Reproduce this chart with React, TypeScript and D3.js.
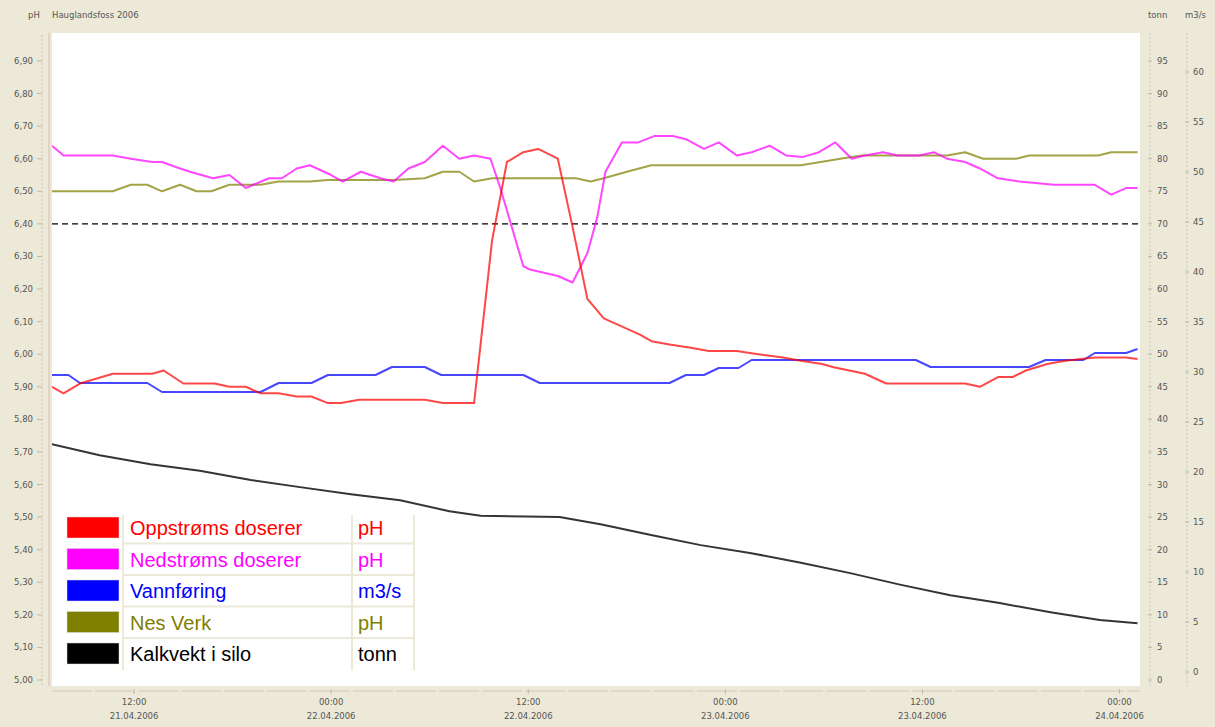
import React from "react";
import * as d3 from "d3";

const W = 1215;
const H = 727;
const plot = { left: 52, right: 1140, top: 33, bottom: 686 };

// time in hours since 21.04.2006 00:00
const oppT = [7.0, 7.7, 8.7, 10.7, 12.0, 13.1, 13.8, 15.0, 15.6, 16.9, 17.8, 18.8, 19.7, 20.8, 21.9, 22.8, 23.8, 24.6, 25.7, 29.7, 30.8, 32.7, 33.8, 34.7, 35.7, 36.6, 37.8, 38.7, 39.6, 40.6, 42.8, 43.5, 44.6, 45.9, 47.0, 48.7, 50.0, 51.5, 52.6, 53.9, 54.6, 56.5, 57.8, 58.7, 62.6, 63.5, 64.6, 65.5, 66.3, 67.6, 68.7, 70.5, 72.4, 73.1];
const oppV = [5.9, 5.88, 5.91, 5.94, 5.94, 5.94, 5.95, 5.91, 5.91, 5.91, 5.9, 5.9, 5.88, 5.88, 5.87, 5.87, 5.85, 5.85, 5.86, 5.86, 5.85, 5.85, 6.35, 6.59, 6.62, 6.63, 6.6, 6.39, 6.17, 6.11, 6.06, 6.04, 6.03, 6.02, 6.01, 6.01, 6.0, 5.99, 5.98, 5.97, 5.96, 5.94, 5.91, 5.91, 5.91, 5.9, 5.93, 5.93, 5.95, 5.97, 5.98, 5.99, 5.99, 5.985];

const nedT = [7.0, 7.7, 10.7, 11.8, 13.1, 13.7, 14.8, 15.4, 16.8, 17.8, 18.8, 20.2, 21.0, 21.9, 22.7, 24.0, 24.7, 25.8, 27.0, 27.8, 28.7, 29.7, 30.8, 31.8, 32.7, 33.7, 34.3, 35.7, 36.1, 37.8, 38.7, 39.6, 40.2, 40.7, 41.7, 42.7, 43.7, 44.8, 45.6, 46.7, 47.6, 48.7, 49.6, 50.7, 51.7, 52.7, 53.7, 54.7, 55.7, 56.5, 57.6, 58.5, 59.8, 60.7, 61.5, 62.6, 63.5, 64.6, 65.9, 68.0, 70.5, 71.5, 72.4, 73.1];
const nedV = [6.64, 6.61, 6.61, 6.6, 6.59, 6.59, 6.57, 6.56, 6.54, 6.55, 6.51, 6.54, 6.54, 6.57, 6.58, 6.55, 6.53, 6.56, 6.54, 6.53, 6.57, 6.59, 6.64, 6.6, 6.61, 6.6, 6.51, 6.27, 6.26, 6.24, 6.22, 6.31, 6.42, 6.56, 6.65, 6.65, 6.67, 6.67, 6.66, 6.63, 6.65, 6.61, 6.62, 6.64, 6.61, 6.605, 6.62, 6.65, 6.6, 6.61, 6.62, 6.61, 6.61, 6.62, 6.6, 6.59, 6.57, 6.54, 6.53, 6.52, 6.52, 6.49, 6.51, 6.51];

const vannT = [7.0, 8.0, 8.7, 12.8, 13.7, 19.7, 20.8, 22.8, 23.8, 26.7, 27.7, 29.7, 30.7, 35.7, 36.7, 44.6, 45.6, 46.7, 47.6, 48.8, 49.6, 59.6, 60.5, 66.5, 67.5, 69.8, 70.5, 72.4, 73.1];
const vannV = [29.7, 29.7, 28.9, 28.9, 28.0, 28.0, 28.9, 28.9, 29.7, 29.7, 30.5, 30.5, 29.7, 29.7, 28.9, 28.9, 29.7, 29.7, 30.4, 30.4, 31.2, 31.2, 30.5, 30.5, 31.2, 31.2, 31.9, 31.9, 32.3];

const nesT = [7.0, 10.7, 11.8, 12.8, 13.7, 14.8, 15.8, 16.7, 17.8, 19.7, 20.8, 22.7, 23.8, 27.8, 29.7, 30.8, 31.8, 32.7, 33.8, 38.9, 39.8, 40.6, 42.0, 43.5, 52.6, 55.0, 56.3, 61.5, 62.6, 63.7, 65.7, 66.5, 70.7, 71.5, 73.1];
const nesV = [6.5, 6.5, 6.52, 6.52, 6.5, 6.52, 6.5, 6.5, 6.52, 6.52, 6.53, 6.53, 6.535, 6.535, 6.54, 6.56, 6.56, 6.53, 6.54, 6.54, 6.53, 6.54, 6.56, 6.58, 6.58, 6.6, 6.61, 6.61, 6.62, 6.6, 6.6, 6.61, 6.61, 6.62, 6.62];

const kalkT = [7.0, 9.9, 13.0, 16.0, 19.1, 22.1, 25.2, 28.2, 31.2, 33.1, 37.9, 40.4, 43.4, 46.5, 49.5, 52.6, 55.6, 58.7, 61.7, 64.7, 67.8, 70.8, 73.1];
const kalkV = [36.2, 34.5, 33.1, 32.1, 30.7, 29.6, 28.5, 27.6, 25.9, 25.2, 25.0, 23.9, 22.3, 20.7, 19.5, 18.0, 16.4, 14.6, 13.0, 11.8, 10.4, 9.2, 8.7];

const legendNames = ["Oppstrøms doserer", "Nedstrøms doserer", "Vannføring", "Nes Verk", "Kalkvekt i silo"];
const legendUnits = ["pH", "pH", "m3/s", "pH", "tonn"];
const legendColors = ["#ff0000", "#ff00ff", "#0000ff", "#808000", "#000000"];

const phTicks = d3.range(0, 20).map((i) => 5 + i / 10);
const tonnTicks = d3.range(0, 100, 5);
const flowTicks = d3.range(0, 65, 5);
const limitPh = 6.4;

const base = new Date(2006, 3, 21, 0, 0);
const toDate = (h: number) => new Date(base.getTime() + h * 3600e3);

const x = d3.scaleTime().domain([toDate(7), toDate(73.25)]).range([plot.left, plot.right]);
const yPh = d3.scaleLinear().domain([5, 7]).range([680, 28.4]);
const yTonn = d3.scaleLinear().domain([0, 100]).range([680, 28.4]);
const yFlow = d3.scaleLinear().domain([0, 60]).range([672, 72]);

const timeTicks = [12, 24, 36, 48, 60, 72].map(toDate);
const fmtTime = d3.timeFormat("%H:%M");
const fmtDay = d3.timeFormat("%d.%m.%Y");

function linePath(ts: number[], vs: number[], y: d3.ScaleLinear<number, number>) {
  const gen = d3
    .line<number>()
    .x((_, i) => x(toDate(ts[i])))
    .y((v) => y(v));
  return gen(vs) || "";
}

const small = { fontFamily: "DejaVu Sans, sans-serif", fontSize: 8.5, fill: "#555" } as const;

export default function App() {
  const series = [
    { d: linePath(nesT, nesV, yPh), c: legendColors[3], o: 0.72 },
    { d: linePath(vannT, vannV, yFlow), c: legendColors[2], o: 0.72 },
    { d: linePath(kalkT, kalkV, yTonn), c: "#111", o: 0.85 },
    { d: linePath(nedT, nedV, yPh), c: legendColors[1], o: 0.72 },
    { d: linePath(oppT, oppV, yPh), c: legendColors[0], o: 0.72 },
  ];
  const lgX = 62;
  const lgY = 515;
  const rowH = 31.5;

  return (
    <svg
      width={W}
      height={H}
      style={{ position: "absolute", left: 0, top: 0, display: "block" }}
    >
      <rect width={W} height={H} fill="#ECE9D8" />
      <defs>
        <clipPath id="plotclip">
          <rect x={plot.left} y={plot.top} width={plot.right - plot.left} height={plot.bottom - plot.top} />
        </clipPath>
      </defs>

      {/* header texts */}
      <text x={28} y={18} {...small}>pH</text>
      <text x={52} y={18} {...small}>Hauglandsfoss 2006</text>
      <text x={1148} y={18} {...small}>tonn</text>
      <text x={1185} y={18} {...small}>m3/s</text>

      {/* plot area */}
      <rect x={plot.left} y={plot.top} width={plot.right - plot.left} height={plot.bottom - plot.top} fill="#fff" />
      <line x1={49} x2={49} y1={plot.top} y2={plot.bottom} stroke="#E3D3C3" strokeWidth={2} />

      {/* left pH axis */}
      <line x1={42} x2={42} y1={plot.top + 2} y2={plot.bottom} stroke="#C8C4B4" strokeDasharray="2,2" />
      {phTicks.map((t) => (
        <g key={t}>
          <line x1={37} x2={42} y1={yPh(t)} y2={yPh(t)} stroke="#BDB9A8" />
          <text x={33} y={yPh(t) + 3} textAnchor="end" {...small}>
            {t.toFixed(2).replace(".", ",")}
          </text>
        </g>
      ))}

      {/* right tonn axis */}
      <line x1={1150} x2={1150} y1={plot.top} y2={plot.bottom} stroke="#C8C4B4" strokeDasharray="2,2" />
      {tonnTicks.map((t) => (
        <g key={t}>
          <line x1={1148} x2={1152} y1={yTonn(t)} y2={yTonn(t)} stroke="#BDB9A8" />
          <text x={1157} y={yTonn(t) + 3} {...small}>{t}</text>
        </g>
      ))}

      {/* right m3/s axis */}
      <line x1={1187} x2={1187} y1={plot.top} y2={plot.bottom} stroke="#C8C4B4" strokeDasharray="2,2" />
      {flowTicks.map((t) => (
        <g key={t}>
          <line x1={1185} x2={1189} y1={yFlow(t)} y2={yFlow(t)} stroke="#BDB9A8" />
          <text x={1193} y={yFlow(t) + 3} {...small}>{t}</text>
        </g>
      ))}

      {/* time axis */}
      <line x1={plot.left} x2={plot.right} y1={691} y2={691} stroke="#CFCBB8" strokeDasharray="40,3" />
      {timeTicks.map((t, i) => (
        <g key={i}>
          <line x1={x(t)} x2={x(t)} y1={689} y2={694} stroke="#BDB9A8" />
          <text x={x(t)} y={705} textAnchor="middle" {...small}>{fmtTime(t)}</text>
          <text x={x(t)} y={719} textAnchor="middle" {...small}>{fmtDay(t)}</text>
        </g>
      ))}

      {/* series */}
      <g clipPath="url(#plotclip)">
        <line
          x1={plot.left}
          x2={plot.right}
          y1={yPh(limitPh)}
          y2={yPh(limitPh)}
          stroke="#000"
          strokeWidth={1.3}
          strokeDasharray="6,4"
        />
        {series.map((s, i) => (
          <path key={i} d={s.d} fill="none" stroke={s.c} strokeWidth={2} strokeOpacity={s.o} strokeLinejoin="round" />
        ))}
      </g>

      {/* legend */}
      <g>
        <rect x={lgX} y={lgY} width={352} height={rowH * 5} fill="#fff" />
        {legendNames.map((n, i) => {
          const ry = lgY + i * rowH;
          return (
            <g key={n}>
              <rect x={67} y={ry + 2} width={52} height={21} fill={legendColors[i]} stroke="#ddd" strokeWidth={0.5} />
              <text x={130} y={ry + 20} fontFamily="Liberation Sans, Arial, sans-serif" fontSize={20} fill={legendColors[i]}>
                {n}
              </text>
              <text x={358} y={ry + 20} fontFamily="Liberation Sans, Arial, sans-serif" fontSize={20} fill={legendColors[i]}>
                {legendUnits[i]}
              </text>
              {i > 0 && <line x1={124} x2={413} y1={ry - 3} y2={ry - 3} stroke="#ECE9D8" strokeWidth={2} />}
            </g>
          );
        })}
        <line x1={123} x2={123} y1={lgY} y2={lgY + rowH * 5 - 2} stroke="#ECE9D8" strokeWidth={2} />
        <line x1={352} x2={352} y1={lgY} y2={lgY + rowH * 5 - 2} stroke="#ECE9D8" strokeWidth={2} />
        <line x1={414} x2={414} y1={lgY} y2={lgY + rowH * 5 - 2} stroke="#ECE9D8" strokeWidth={2} />
      </g>
    </svg>
  );
}
